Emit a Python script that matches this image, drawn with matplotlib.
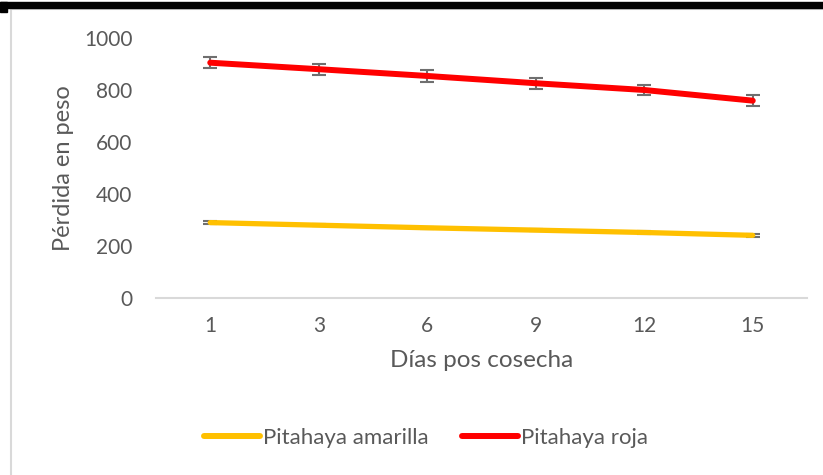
import numpy as np
import matplotlib.pyplot as plt
from matplotlib.patches import Rectangle

dias = ['1', '3', '6', '9', '12', '15']
amarilla = [290, 280, 270, 261, 252, 241]
amarilla_err = [5, 4, 4, 4, 4, 5]
roja = [905, 880, 854, 826, 800, 759]
roja_err = [22, 21, 22, 22, 21, 22]

plt.rcParams['font.family'] = ['Lato', 'DejaVu Sans']
gris = '#595959'

fig = plt.figure(figsize=(8.23, 4.75), dpi=100)
ax = fig.add_axes([156/823, 1 - 298/475, (807 - 156)/823, (298 - 38)/475])

x = np.arange(len(dias))
ax.errorbar(x, amarilla, yerr=amarilla_err, color='#FFC000', lw=3.8,
            ecolor='#6f6f6f', elinewidth=1.5, capsize=5, capthick=1.5,
            solid_capstyle='round', label='Pitahaya amarilla', zorder=3)
ax.errorbar(x, roja, yerr=roja_err, color='#FF0000', lw=4.3,
            ecolor='#6f6f6f', elinewidth=1.5, capsize=5, capthick=1.5,
            solid_capstyle='round', label='Pitahaya roja', zorder=3)

ax.set_xlim(-0.5, len(dias) - 0.5)
ax.set_ylim(0, 1000)
ax.set_yticks([0, 200, 400, 600, 800, 1000])
ax.set_xticks(x)
ax.set_xticklabels(dias)
for s in ['top', 'right', 'left']:
    ax.spines[s].set_visible(False)
ax.spines['bottom'].set_color('#d9d9d9')
ax.spines['bottom'].set_linewidth(1.5)
ax.tick_params(length=0, labelsize=15, labelcolor=gris)
ax.tick_params(axis='y', pad=17)
ax.tick_params(axis='x', pad=13)
ax.set_xlabel('Días pos cosecha', fontsize=17.5, color=gris, labelpad=10)
ax.set_ylabel('Pérdida en peso', fontsize=17, color=gris, labelpad=7)

handles, labels = ax.get_legend_handles_labels()
handles = [plt.Line2D([], [], color=h[0].get_color(), lw=4.3, solid_capstyle='round') for h in handles]
fig.legend(handles, labels, loc='center', bbox_to_anchor=(426/823, 1 - 438/475),
           ncol=2, frameon=False, fontsize=16, labelcolor=gris,
           handlelength=2.5, handletextpad=0.15, columnspacing=1.5)

# marco del gráfico
fig.patches.append(Rectangle((11/823, -0.1), 1.0, 1 - 9/475 + 0.1, transform=fig.transFigure,
                             fill=False, edgecolor='#d9d9d9', lw=1.5, zorder=0))
fig.patches.append(Rectangle((0, 1 - 8/475), 1, 6/475, transform=fig.transFigure,
                             color='black', zorder=5))
fig.patches.append(Rectangle((0, 1 - 12/475), 7/823, 10/475, transform=fig.transFigure,
                             color='black', zorder=5))

fig.savefig('out.png', dpi=100)
